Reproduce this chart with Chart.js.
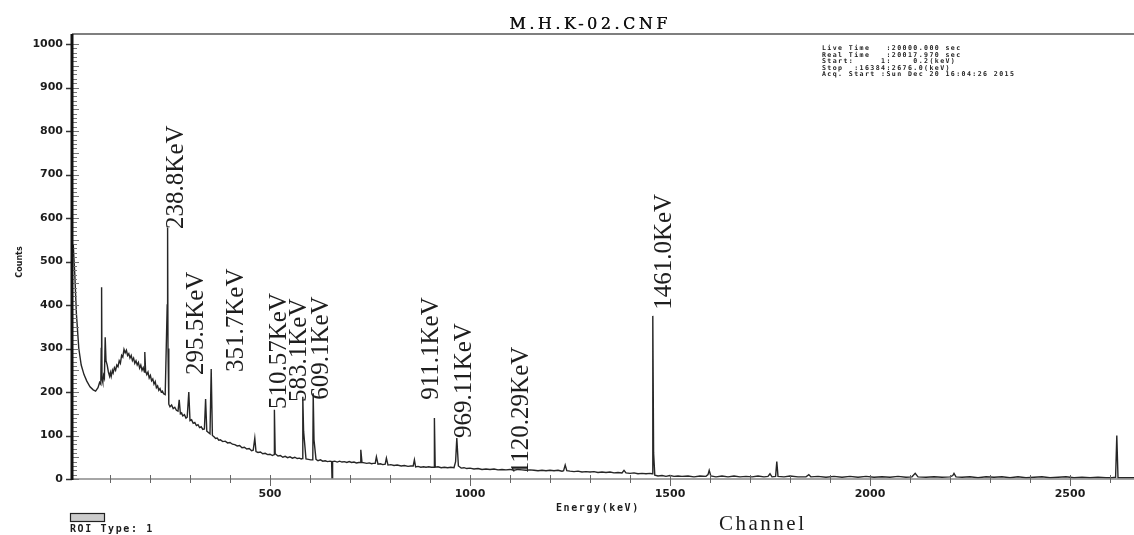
<!DOCTYPE html>
<html>
<head>
<meta charset="utf-8">
<title>M.H.K-02.CNF</title>
<script src="https://cdn.jsdelivr.net/npm/chart.js@4.4.1/dist/chart.umd.min.js"></script>
<style>
  html, body { margin: 0; padding: 0; background: #fff; }
  #wrap { width: 1134px; height: 535px; position: relative; }
</style>
</head>
<body>
<div id="wrap"><canvas id="c"></canvas></div>
<script>
// spectrum (energy in keV, counts), same layout line by line
const energies = [
  5, 8, 12, 16, 22, 28, 35, 42, 50, 58, 64, 70, 74, 77,
  78, 79, 80, 82, 84, 86, 88, 90,
  93, 96, 99, 101, 103, 106, 108, 111, 114, 117, 120, 123, 126, 129,
  132, 135, 138, 141, 144, 147, 150, 153, 156, 159, 162, 165, 168, 171,
  174, 177, 180, 183, 186, 187, 189, 192, 195, 198, 201, 204, 207, 210,
  213, 216, 219, 222, 225, 228, 231, 234, 238, 243, 244, 245, 247, 250,
  254, 258, 262, 266, 270, 273, 276, 279, 282, 286, 290, 293, 297, 300,
  304, 308, 312, 316, 320, 324, 328, 332, 336, 339, 342, 346, 350, 353,
  356, 360, 364, 368, 372, 376, 382, 388, 394, 400, 406, 412, 418, 424,
  430, 436, 442, 448, 454, 458, 462, 465, 470, 476, 482, 488, 494, 500,
  506, 510, 511, 513, 520, 526, 532, 538, 544, 550, 556, 562, 568, 574,
  578, 581, 582, 584, 590, 596, 602, 607, 608, 610, 615, 620, 626, 632,
  638, 644, 650, 654, 655, 656, 657, 662, 668, 674, 680, 686, 692, 698,
  704, 710, 716, 722, 725, 727, 730, 736, 742, 748, 754, 758, 763, 766,
  770, 776, 782, 788, 791, 795, 802, 810, 818, 828, 836, 845, 852, 858,
  861, 864, 870, 877, 884, 890, 897, 903, 910, 911, 913, 920, 928, 936,
  944, 952, 960, 964, 967, 971, 978, 985, 992, 1000, 1010, 1020, 1030, 1040,
  1050, 1060, 1070, 1080, 1090, 1100, 1110, 1120, 1130, 1140, 1150, 1160, 1170, 1180,
  1190, 1200, 1210, 1220, 1230, 1234, 1238, 1242, 1250, 1260, 1270, 1280, 1290, 1300,
  1310, 1320, 1330, 1340, 1350, 1360, 1370, 1380, 1385, 1390, 1400, 1410, 1420, 1430,
  1440, 1450, 1455, 1457, 1459, 1462, 1470, 1480, 1490, 1500, 1510, 1520, 1530, 1545,
  1560, 1575, 1590, 1595, 1598, 1602, 1615, 1630, 1645, 1660, 1675, 1690, 1705, 1720,
  1735, 1745, 1750, 1755, 1764, 1767, 1770, 1785, 1800, 1820, 1840, 1847, 1852, 1870,
  1890, 1910, 1930, 1950, 1970, 1990, 2010, 2030, 2050, 2070, 2090, 2105, 2113, 2120,
  2140, 2160, 2180, 2200, 2207, 2210, 2215, 2230, 2250, 2270, 2290, 2310, 2330, 2350,
  2370, 2390, 2410, 2430, 2450, 2470, 2490, 2510, 2530, 2550, 2570, 2590, 2605, 2614,
  2617, 2620, 2640, 2660
];
const counts = [
  520, 540, 470, 380, 300, 262, 240, 225, 212, 205, 202, 210, 222, 218,
  300, 441, 230, 222, 238, 232, 326, 272,
  262, 246, 236, 245, 236, 250, 244, 256, 250, 262, 258, 272, 266, 284,
  280, 298, 290, 296, 284, 288, 278, 284, 272, 278, 266, 272, 262, 268,
  255, 262, 250, 256, 246, 292, 248, 240, 246, 232, 238, 226, 230, 218,
  224, 210, 214, 204, 208, 200, 202, 196, 194, 400, 578, 300, 172, 166,
  170, 162, 165, 158, 156, 182, 150, 152, 145, 148, 140, 142, 200, 134,
  136, 128, 130, 123, 125, 118, 120, 114, 115, 184, 110, 107, 104, 253,
  100, 97, 93, 94, 89, 90, 86, 87, 83, 84, 80, 79, 76, 77,
  72, 73, 69, 70, 65, 66, 94, 63, 61, 62, 58, 59, 56, 57,
  54, 56, 159, 58, 53, 54, 50, 52, 49, 51, 48, 50, 47, 48,
  46, 47, 189, 110, 46, 45, 44, 44, 197, 90, 45, 42, 44, 41,
  42, 40, 41, 40, 2, 40, 40, 41, 39, 41, 39, 40, 38, 40,
  38, 39, 37, 38, 38, 67, 38, 37, 36, 37, 35, 36, 36, 51,
  34, 35, 33, 34, 48, 32, 33, 31, 32, 30, 31, 29, 30, 30,
  44, 28, 29, 27, 28, 27, 28, 27, 27, 140, 27, 28, 26, 27,
  26, 27, 26, 40, 94, 30, 25, 26, 24, 25, 23, 24, 22, 23,
  22, 23, 21, 22, 21, 22, 20, 22, 21, 20, 21, 20, 19, 20,
  19, 20, 19, 20, 18, 19, 32, 19, 18, 17, 18, 16, 17, 16,
  17, 15, 16, 15, 16, 14, 15, 14, 20, 14, 13, 14, 12, 13,
  12, 13, 12, 375, 60, 9, 7, 8, 6, 8, 6, 7, 6, 7,
  5, 7, 6, 10, 20, 7, 5, 7, 5, 7, 5, 6, 5, 7,
  5, 6, 12, 5, 6, 40, 6, 5, 7, 5, 5, 10, 5, 6,
  4, 6, 4, 6, 4, 6, 4, 5, 4, 6, 4, 5, 13, 5,
  4, 5, 4, 5, 8, 13, 5, 4, 5, 3, 5, 4, 5, 3,
  5, 3, 4, 5, 3, 4, 5, 3, 4, 3, 4, 3, 3, 4,
  100, 3, 3, 3
];

const xTickValues = [500, 1000, 1500, 2000, 2500];
const yTickValues = [0, 100, 200, 300, 400, 500, 600, 700, 800, 900, 1000];

// peak annotations: text, energy of the text baseline, count where text starts
const peakNames = ["238.8KeV", "295.5KeV", "351.7KeV", "510.57KeV", "583.1KeV",
  "609.1KeV", "911.1KeV", "969.11KeV", "1120.29KeV", "1461.0KeV"];
const peakTextE = [282, 332, 432, 540, 590, 645, 920, 1002, 1145, 1502];
const peakTextC = [575, 239, 246, 161, 177, 182, 182, 94, 11, 389];

const infoLines = [
  "Live Time   :20000.000 sec",
  "Real Time   :20017.970 sec",
  "Start:     1:    0.2(keV)",
  "Stop  :16384:2676.0(keV)",
  "Acq. Start :Sun Dec 20 16:04:26 2015"
];

const INK = "#1c1c1c";

const decor = {
  id: "decor",
  afterDatasetsDraw(chart) {
    const { ctx, chartArea: a, scales: { x, y } } = chart;
    ctx.save();

    // frame: top border, bottom axis
    ctx.strokeStyle = "#555";
    ctx.lineWidth = 1.5;
    ctx.beginPath();
    ctx.moveTo(a.left, a.top); ctx.lineTo(a.right, a.top);
    ctx.stroke();
    ctx.strokeStyle = "#888";
    ctx.beginPath();
    ctx.moveTo(a.left, a.bottom); ctx.lineTo(a.right, a.bottom);
    ctx.stroke();

    // x ticks every 100 keV
    ctx.strokeStyle = "#666";
    ctx.lineWidth = 1;
    for (let v = 100; v <= 2600; v += 100) {
      const px = Math.round(x.getPixelForValue(v)) + 0.5;
      const long = v % 500 === 0;
      ctx.beginPath();
      ctx.moveTo(px, a.bottom - 4);
      ctx.lineTo(px, a.bottom + (long ? 7 : 4));
      ctx.stroke();
    }

    // y ticks: minor every 10 inside, major every 100 outside
    ctx.strokeStyle = "#777";
    for (let v = 0; v <= 1000; v += 10) {
      const py = Math.round(y.getPixelForValue(v)) + 0.5;
      ctx.beginPath();
      ctx.moveTo(a.left, py);
      ctx.lineTo(a.left + (v % 50 === 0 ? 7 : 5), py);
      ctx.stroke();
    }
    ctx.strokeStyle = "#333";
    ctx.lineWidth = 1.5;
    yTickValues.forEach(v => {
      const py = Math.round(y.getPixelForValue(v)) + 0.5;
      ctx.beginPath();
      ctx.moveTo(a.left - 6, py);
      ctx.lineTo(a.left, py);
      ctx.stroke();
    });

    ctx.strokeStyle = "#111";
    ctx.lineWidth = 3;
    ctx.beginPath();
    ctx.moveTo(a.left, a.top);
    ctx.lineTo(a.left, a.bottom + 1);
    ctx.stroke();

    // title
    ctx.fillStyle = "#111";
    ctx.font = "16px 'DejaVu Serif'";
    ctx.letterSpacing = "3.5px";
    ctx.textAlign = "center";
    ctx.textBaseline = "alphabetic";
    ctx.fillText("M.H.K-02.CNF", 590, 29);
    ctx.fillText("M.H.K-02.CNF", 590.4, 29);
    ctx.letterSpacing = "0px";

    // acquisition info block
    ctx.fillStyle = INK;
    ctx.font = "bold 6.6px 'DejaVu Sans Mono'";
    ctx.textAlign = "left";
    ctx.letterSpacing = "1.4px";
    infoLines.forEach((t, i) => ctx.fillText(t, 822, 50 + i * 6.5));
    ctx.letterSpacing = "0px";

    // peak labels
    ctx.font = "25px 'Liberation Serif'";
    ctx.fillStyle = "#1e1e1e";
    peakNames.forEach((t, i) => {
      ctx.save();
      ctx.translate(x.getPixelForValue(peakTextE[i]), y.getPixelForValue(peakTextC[i]));
      ctx.rotate(-Math.PI / 2);
      ctx.textAlign = "left";
      ctx.fillText(t, 0, 0);
      ctx.restore();
    });

    // axis titles
    ctx.fillStyle = INK;
    ctx.save();
    ctx.translate(22, 262);
    ctx.rotate(-Math.PI / 2);
    ctx.font = "bold 8px 'DejaVu Sans'";
    ctx.textAlign = "center";
    ctx.fillText("Counts", 0, 0);
    ctx.restore();

    ctx.font = "bold 10px 'DejaVu Sans Mono'";
    ctx.letterSpacing = "1.6px";
    ctx.textAlign = "left";
    ctx.fillText("Energy(keV)", 556, 511);
    ctx.fillText("ROI Type: 1", 70, 532);
    ctx.letterSpacing = "0px";

    ctx.font = "21px 'Liberation Serif'";
    ctx.letterSpacing = "2.5px";
    ctx.fillText("Channel", 719, 530);
    ctx.letterSpacing = "0px";

    // ROI legend swatch
    ctx.fillStyle = "#ccc";
    ctx.fillRect(70, 513, 34, 8);
    ctx.strokeStyle = "#222";
    ctx.lineWidth = 1.2;
    ctx.strokeRect(70.5, 513.5, 34, 8);

    ctx.restore();
  }
};

new Chart(document.getElementById("c"), {
  type: "line",
  data: {
    datasets: [{
      data: energies.map((e, i) => ({ x: e, y: counts[i] })),
      borderColor: "#262626",
      borderWidth: 1.4,
      pointRadius: 0,
      tension: 0,
      fill: false
    }]
  },
  options: {
    responsive: true,
    maintainAspectRatio: false,
    animation: false,
    layout: { padding: { top: 34, right: 0, left: 0, bottom: 0 } },
    plugins: { legend: { display: false }, tooltip: { enabled: false } },
    scales: {
      x: {
        type: "linear",
        min: 5,
        max: 2660,
        grid: { display: false, drawTicks: false },
        border: { display: false },
        afterBuildTicks: (s) => { s.ticks = xTickValues.map(v => ({ value: v })); },
        afterFit: (s) => { s.height = 56; },
        ticks: {
          autoSkip: false,
          maxRotation: 0,
          padding: 9,
          color: INK,
          callback: (v) => String(v),
          font: { family: "DejaVu Sans", weight: "bold", size: 11 }
        }
      },
      y: {
        min: 0,
        max: 1023,
        grid: { display: false, drawTicks: false },
        border: { display: false },
        afterBuildTicks: (s) => { s.ticks = yTickValues.map(v => ({ value: v })); },
        afterFit: (s) => { s.width = 72; },
        ticks: {
          padding: 9,
          color: INK,
          callback: (v) => String(v),
          font: { family: "DejaVu Sans", weight: "bold", size: 11 }
        }
      }
    }
  },
  plugins: [decor]
});
</script>
</body>
</html>
